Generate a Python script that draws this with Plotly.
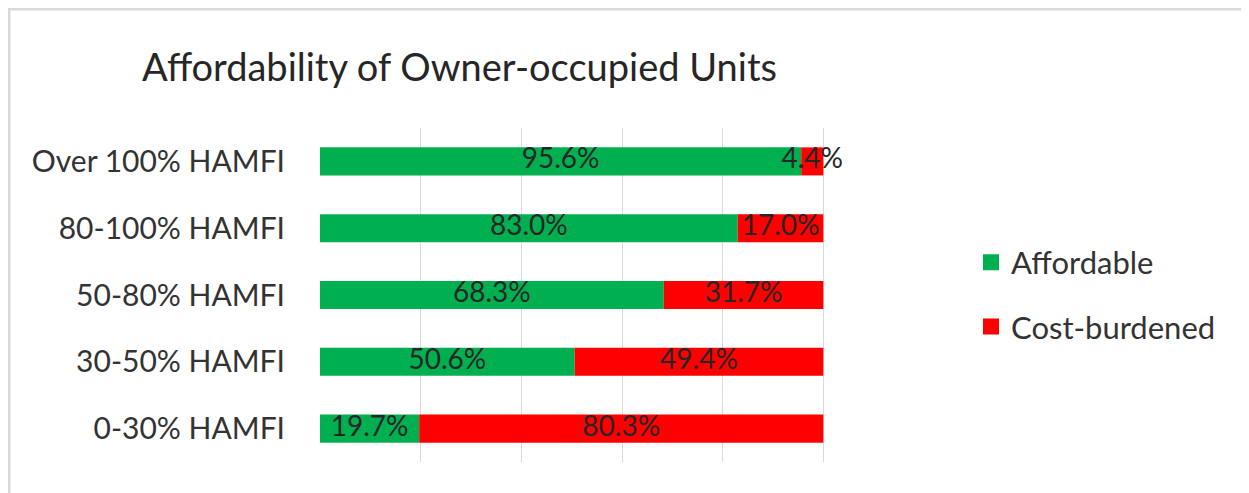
import plotly.graph_objects as go

categories = ["0-30% HAMFI", "30-50% HAMFI", "50-80% HAMFI", "80-100% HAMFI", "Over 100% HAMFI"]
affordable = [19.7, 50.6, 68.3, 83.0, 95.6]
cost_burdened = [80.3, 49.4, 31.7, 17.0, 4.4]
series_names = ["Affordable", "Cost-burdened"]
x_ticks = [0, 20, 40, 60, 80, 100, 120]

GREEN = "#00B050"
RED = "#FF0000"
FONT = "Lato, Open Sans, sans-serif"
TXT = "#262626"

# page body has an 8px margin; figure coordinates below are page coords minus 8
W, H = 1241, 485
PL, PR, PT, PB = 312, 916, 120, 454
L, R, T, B = PL, W - PR, PT, H - PB
pw, ph = PR - PL, PB - PT

fig = go.Figure()
fig.add_trace(go.Bar(
    y=categories, x=affordable, name=series_names[0], orientation="h",
    marker=dict(color=GREEN, line=dict(width=0)), legendgroup="a", showlegend=False,
    hoverinfo="x+name",
))
fig.add_trace(go.Bar(
    y=categories, x=cost_burdened, name=series_names[1], orientation="h",
    base=affordable,
    marker=dict(color=RED, line=dict(width=0)), legendgroup="b", showlegend=False,
    hoverinfo="x+name",
))
# legend entries (square swatches)
for nm, col, grp in [(series_names[0], GREEN, "a"), (series_names[1], RED, "b")]:
    fig.add_trace(go.Scatter(
        x=[None], y=[None], mode="markers", name=nm, legendgroup=grp,
        marker=dict(symbol="square", size=20, color=col), showlegend=True,
    ))

# data labels centred on each segment
mid_a = [a / 2 for a in affordable]
mid_c = [a + c / 2 for a, c in zip(affordable, cost_burdened)]
fig.add_trace(go.Scatter(
    y=categories + categories, x=mid_a + mid_c, mode="text",
    text=[f"{v:.1f}%" for v in affordable + cost_burdened],
    textfont=dict(family=FONT, size=28, color=TXT),
    textposition="middle center", showlegend=False, hoverinfo="skip",
))

fig.update_layout(
    width=W, height=H,
    margin=dict(l=L, r=R, t=T, b=B, pad=0),
    paper_bgcolor="white", plot_bgcolor="white",
    barmode="overlay", bargap=0.58,
    title=dict(text="Affordability of Owner-occupied Units", x=134 / W, xanchor="left",
               y=1 - 60 / H, yanchor="middle",
               font=dict(family=FONT, size=38, color=TXT)),
    xaxis=dict(range=[0, 120], tickvals=x_ticks, showticklabels=False,
               showgrid=True, gridcolor="#d9d9d9", gridwidth=1, zeroline=False,
               showline=False, fixedrange=True),
    yaxis=dict(categoryorder="array", categoryarray=categories,
               range=[-0.5, 4.5], showgrid=False, zeroline=False, showline=False,
               ticks="", ticklabelstandoff=34,
               tickfont=dict(family=FONT, size=30, color="#333333")),
    legend=dict(x=(963 - PL) / pw, xanchor="left", y=(PB - 227.5) / ph,
                yanchor="top", font=dict(family=FONT, size=31, color="#333333"),
                tracegroupgap=21, itemwidth=30, bgcolor="rgba(0,0,0,0)",
                itemsizing="trace"),
    showlegend=True,
)

# outer chart border
fig.add_shape(type="rect", xref="paper", yref="paper",
              x0=(1 - PL) / pw, x1=(1270 - PL) / pw, y0=(PB - 520) / ph, y1=(PB - 1) / ph,
              line=dict(color="#d9d9d9", width=3), fillcolor="rgba(0,0,0,0)", layer="below")

fig.write_html("out.html")
